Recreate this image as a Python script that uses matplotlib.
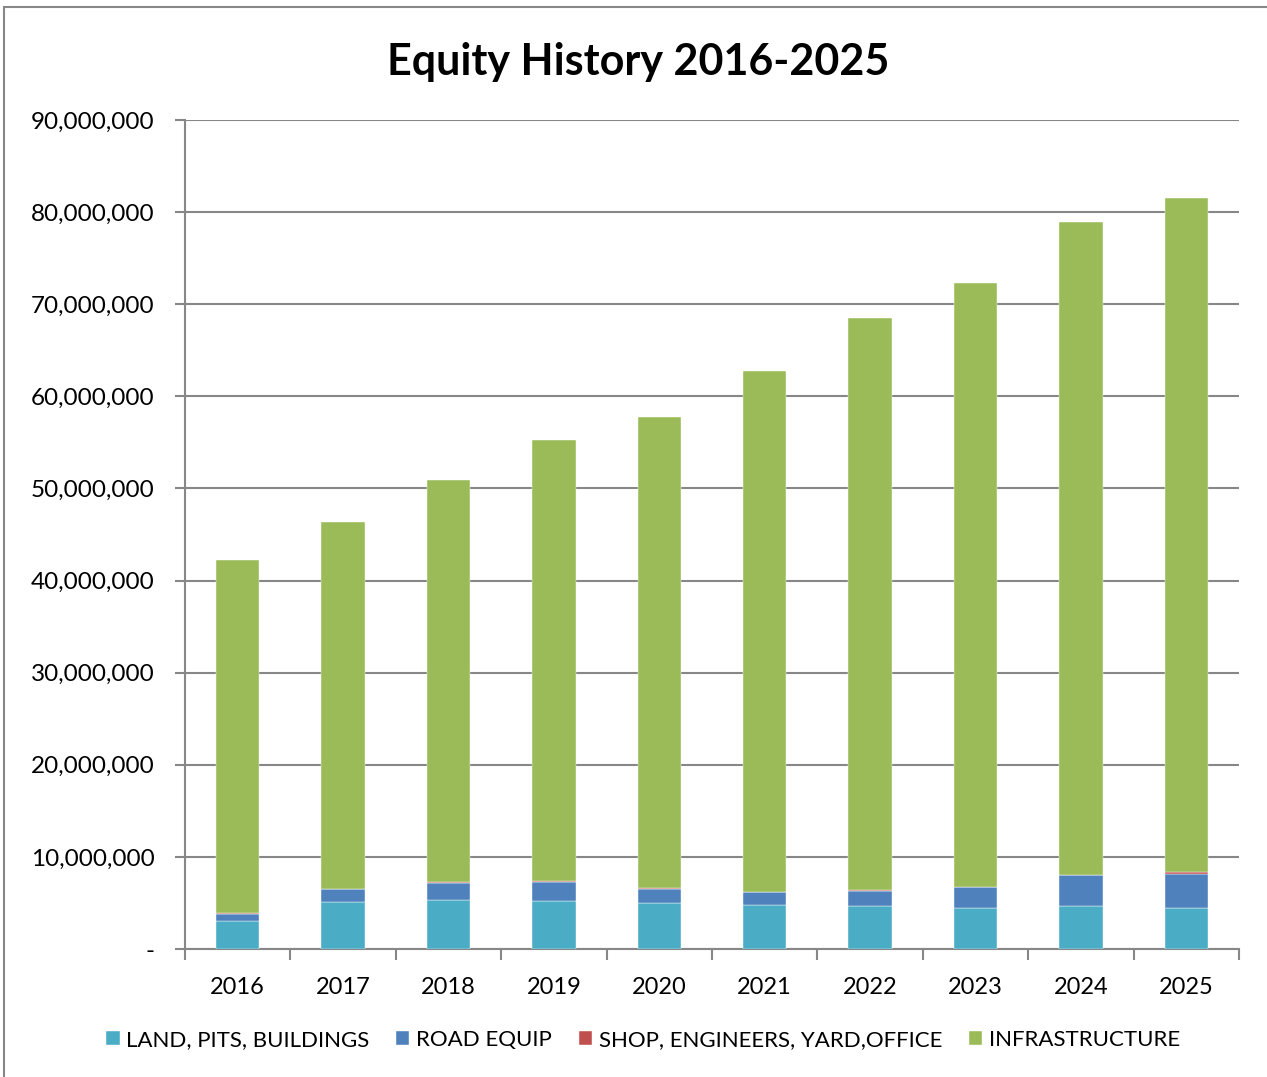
import matplotlib.pyplot as plt
import matplotlib.ticker as mticker
import numpy as np
from matplotlib.patches import Rectangle

plt.rcParams['font.family'] = ['Lato', 'DejaVu Sans']

# values
years = ['2016', '2017', '2018', '2019', '2020', '2021', '2022', '2023', '2024', '2025']
land = [3.04, 5.10, 5.33, 5.18, 4.96, 4.78, 4.64, 4.49, 4.64, 4.49]
road = [0.73, 1.39, 1.88, 2.07, 1.56, 1.38, 1.70, 2.20, 3.37, 3.70]
shop = [0.10, 0.05, 0.10, 0.10, 0.10, 0.05, 0.05, 0.05, 0.05, 0.22]
totals = [42.25, 46.4, 50.9, 55.3, 57.8, 62.8, 68.5, 72.3, 78.9, 81.5]

land = np.array(land) * 1e6
road = np.array(road) * 1e6
shop = np.array(shop) * 1e6
infra = np.array(totals) * 1e6 - land - road - shop

series = [
    ('LAND, PITS, BUILDINGS', land, '#4BACC6'),
    ('ROAD EQUIP', road, '#4F81BD'),
    ('SHOP, ENGINEERS, YARD,OFFICE', shop, '#C0504D'),
    ('INFRASTRUCTURE', infra, '#9BBB59'),
]

W, H = 1267, 1077
fig = plt.figure(figsize=(W / 100, H / 100), dpi=100)
ax = fig.add_axes([185 / W, 1 - 949 / H, (1239 - 185) / W, (949 - 120) / H])

x = np.arange(len(years))
bottom = np.zeros(len(years))
for name, vals, col in series:
    ax.bar(x, vals, width=0.41, bottom=bottom, color=col, label=name,
           edgecolor='white', linewidth=0.3, zorder=3)
    bottom = bottom + vals

ax.set_xlim(-0.5, len(years) - 0.5)
ax.set_ylim(0, 90e6)
ax.set_yticks(np.arange(0, 90e6 + 1, 10e6))
ax.yaxis.set_major_formatter(mticker.FuncFormatter(
    lambda v, p: '-' if v == 0 else f'{v:,.0f}'))
ax.set_xticks(x)
ax.set_xticklabels(years)
ax.set_xticks(np.arange(-0.5, len(years)), minor=True)
ax.tick_params(axis='x', which='major', length=0, pad=20, labelsize=17)
ax.tick_params(axis='x', which='minor', length=8, color='#878787', width=1.5)
ax.tick_params(axis='y', length=7, color='#878787', width=1.5, labelsize=17.5, pad=15)

ax.grid(axis='y', color='#878787', linewidth=1.5, zorder=0)
for s in ['top', 'right']:
    ax.spines[s].set_visible(False)
for s in ['left', 'bottom']:
    ax.spines[s].set_color('#878787')
    ax.spines[s].set_linewidth(1.5)

fig.text(638 / W, 1 - 62 / H, 'Equity History 2016-2025', ha='center', va='center',
         fontsize=31, fontweight='bold')

fig.legend(loc='center', bbox_to_anchor=(643 / W, 1 - 1040 / H), ncol=4,
           frameon=False, fontsize=16, handlelength=0.6, handleheight=0.6,
           handletextpad=0.3, columnspacing=1.2)

fig.patches.append(Rectangle((4 / W, -0.1), 1.2, 1 - 7 / H + 0.1, transform=fig.transFigure,
                             fill=False, edgecolor='#878787', linewidth=1.5))

fig.savefig('out.png', dpi=100)
